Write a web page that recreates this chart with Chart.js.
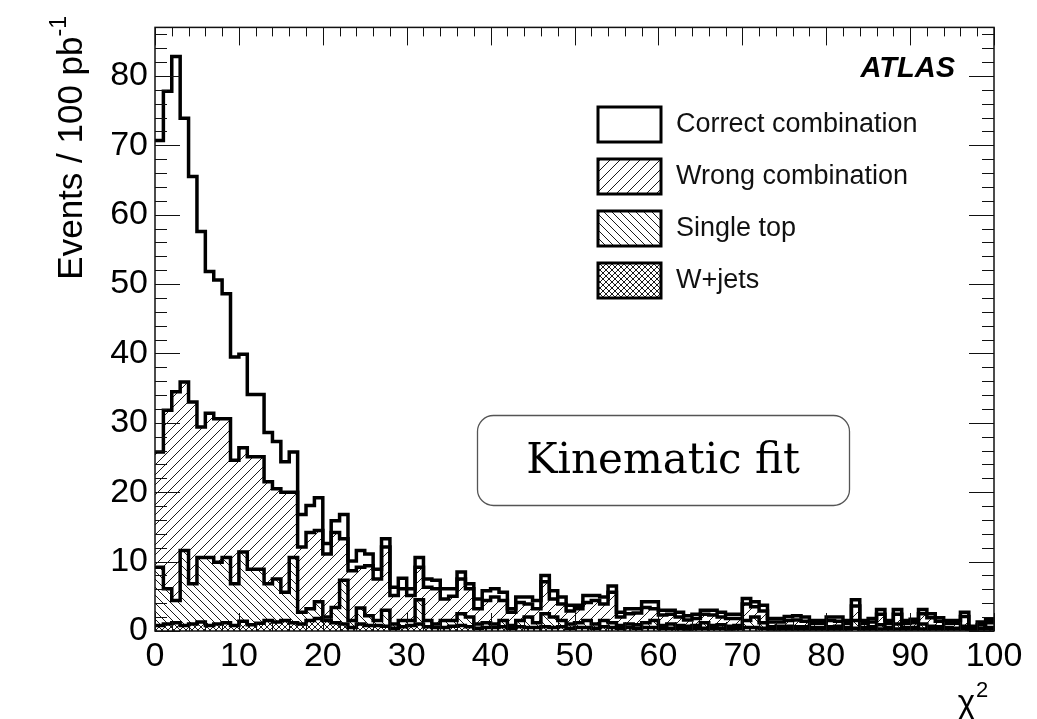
<!DOCTYPE html>
<html>
<head>
<meta charset="utf-8">
<script src="https://cdn.jsdelivr.net/npm/chart.js@4.4.1/dist/chart.umd.min.js"></script>
<style>
  html, body { margin: 0; padding: 0; background: #fff; }
  #wrap { position: relative; width: 1037px; height: 719px; }
</style>
</head>
<body>
<div id="wrap"><canvas id="chi2"></canvas></div>
<script>
// chi2 of the kinematic fit, unit-width bins from 0 to 100, events per bin
const binEdges = Array.from({ length: 100 }, (_, i) => i);

const wJets = [
  0.8, 1.0, 1.2, 0.8, 1.0, 1.3, 0.8, 1.0, 1.2, 0.8,
  1.4, 0.9, 1.1, 1.5, 1.3, 1.5, 1.2, 1.0, 1.5, 1.8,
  1.5, 1.2, 1.0, 0.5, 1.0, 0.8, 0.8, 0.7, 0.4, 0.6,
  0.8, 1.0, 0.6, 0.5, 0.5, 0.7, 0.8, 0.6, 0.4, 0.5,
  0.5, 0.6, 0.4, 0.6, 0.5, 0.5, 0.6, 0.5, 0.6, 0.4,
  0.5, 0.5, 0.4, 0.6, 0.5, 0.4, 0.5, 0.4, 0.5, 0.5,
  0.4, 0.4, 0.4, 0.3, 0.4, 0.4, 0.4, 0.4, 0.3, 0.4,
  0.5, 0.5, 0.4, 0.3, 0.3, 0.3, 0.3, 0.3, 0.3, 0.3,
  0.3, 0.3, 0.3, 0.4, 0.3, 0.3, 0.3, 0.3, 0.3, 0.3,
  0.3, 0.3, 0.3, 0.3, 0.3, 0.3, 0.3, 0.2, 0.3, 0.3
];

const singleTop = [
  8.4, 5.1, 3.2, 10.8, 5.8, 9.3, 9.8, 8.9, 9.4, 6.0,
  10.0, 8.0, 7.8, 5.3, 6.2, 4.1, 9.4, 1.7, 1.7, 2.4,
  0.5, 2.2, 6.3, 1.0, 2.3, 1.4, 0.7, 2.3, 0.6, 0.9,
  0.7, 3.5, 0.9, 0.5, 1.0, 0.8, 1.7, 1.4, 0.6, 0.7,
  0.5, 0.9, 0.4, 0.9, 1.5, 0.7, 1.9, 1.5, 0.9, 0.6,
  0.7, 1.0, 0.6, 0.9, 0.7, 0.4, 0.5, 0.5, 0.7, 1.0,
  0.4, 0.6, 0.4, 0.4, 0.4, 0.8, 0.4, 0.5, 0.4, 0.4,
  1.0, 1.5, 0.8, 0.3, 0.4, 0.4, 0.3, 0.3, 0.2, 0.2,
  0.3, 0.4, 0.2, 1.1, 0.2, 0.3, 0.6, 0.2, 0.7, 0.2,
  0.2, 0.7, 0.4, 0.3, 0.2, 0.1, 0.4, 0.1, 0.1, 0.2
];

const wrongComb = [
  16.6, 25.7, 30.1, 24.3, 26.2, 18.8, 20.8, 20.7, 20.0, 17.8,
  15.0, 16.2, 16.2, 14.7, 13.0, 14.4, 9.4, 9.4, 11.0, 10.3,
  9.1, 10.8, 6.0, 7.2, 5.9, 7.2, 6.0, 9.1, 4.1, 4.6,
  3.6, 4.7, 4.8, 5.1, 3.1, 3.5, 5.0, 4.1, 2.2, 3.2,
  3.9, 2.9, 1.9, 2.6, 1.9, 2.0, 4.6, 2.6, 2.4, 1.9,
  2.0, 2.6, 3.4, 2.4, 4.4, 1.2, 1.5, 1.7, 2.2, 1.7,
  1.5, 1.4, 1.2, 0.9, 1.0, 1.2, 1.5, 1.1, 1.1, 1.0,
  2.4, 1.5, 1.7, 0.7, 0.6, 0.8, 1.0, 0.8, 0.6, 0.6,
  0.9, 0.7, 0.6, 2.1, 0.6, 0.7, 1.5, 0.6, 1.4, 0.6,
  0.7, 1.5, 1.2, 0.8, 0.6, 0.7, 1.4, 0.2, 0.5, 0.7
];

const correctComb = [
  44.9, 46.0, 48.3, 38.0, 32.5, 28.2, 20.4, 20.0, 18.0, 14.9,
  13.5, 9.0, 9.0, 7.1, 6.8, 4.4, 5.8, 4.7, 3.9, 4.7,
  1.5, 1.7, 3.5, 1.4, 2.4, 1.7, 1.4, 1.2, 1.2, 1.5,
  1.0, 1.4, 1.2, 1.2, 1.5, 1.1, 1.0, 0.7, 1.4, 1.4,
  1.2, 1.2, 0.5, 0.8, 1.0, 1.2, 0.9, 1.2, 1.0, 0.8,
  0.5, 1.0, 0.7, 1.0, 0.9, 0.7, 0.7, 0.6, 0.8, 1.0,
  0.7, 0.6, 0.7, 0.6, 0.6, 0.6, 0.7, 0.7, 0.6, 0.6,
  0.8, 0.7, 0.8, 0.5, 0.5, 0.6, 0.6, 0.6, 0.4, 0.4,
  0.5, 0.6, 0.4, 0.9, 0.4, 0.5, 0.7, 0.4, 0.7, 0.4,
  0.5, 0.6, 0.6, 0.5, 0.4, 0.4, 0.6, 0.2, 0.4, 0.5
];

const xTicks = [0, 10, 20, 30, 40, 50, 60, 70, 80, 90, 100];
const yTicks = [0, 10, 20, 30, 40, 50, 60, 70, 80];

const SANS = '"Liberation Sans", Arial, Helvetica, sans-serif';

// hatch tiles: '/' forward, '\' backward, 'x' both
function hatch(kind, step) {
  const c = document.createElement('canvas');
  c.width = step; c.height = step;
  const g = c.getContext('2d');
  g.strokeStyle = '#1a1a1a';
  g.lineWidth = 1;
  g.beginPath();
  if (kind === '/' || kind === 'x') {
    g.moveTo(-1, step + 1); g.lineTo(step + 1, -1);
    g.moveTo(-1, 1); g.lineTo(1, -1);
    g.moveTo(step - 1, step + 1); g.lineTo(step + 1, step - 1);
  }
  if (kind === '\\' || kind === 'x') {
    g.moveTo(-1, -1); g.lineTo(step + 1, step + 1);
    g.moveTo(step - 1, -1); g.lineTo(step + 1, 1);
    g.moveTo(-1, step - 1); g.lineTo(1, step + 1);
  }
  g.stroke();
  return g.createPattern(c, 'repeat');
}

const crossFill = hatch('x', 6);
const backFill = hatch('\\', 8);
const fwdFill = hatch('/', 10);

// one point per lower bin edge, plus the closing edge at 100
function histPoints(vals) {
  const pts = vals.map((v, i) => ({ x: binEdges[i], y: v }));
  pts.push({ x: 100, y: vals[vals.length - 1] });
  return pts;
}

const common = {
  borderColor: '#000',
  borderWidth: 3.5,
  pointRadius: 0,
  stepped: 'before',
  borderJoinStyle: 'miter',
};

// frame with ROOT-style inward ticks on all four sides
const framePlugin = {
  id: 'frame',
  afterDatasetsDraw(chart) {
    const { ctx, chartArea: a, scales: { x, y } } = chart;
    ctx.save();
    ctx.strokeStyle = '#111';
    ctx.lineWidth = 1.5;
    ctx.strokeRect(a.left, a.top, a.right - a.left, a.bottom - a.top);
    ctx.lineWidth = 1;
    ctx.beginPath();
    for (let v = 0; v <= 100; v += 2) {
      const px = Math.round(x.getPixelForValue(v)) + 0.5;
      const len = v % 10 === 0 ? 18 : 9;
      ctx.moveTo(px, a.bottom); ctx.lineTo(px, a.bottom - len);
      ctx.moveTo(px, a.top); ctx.lineTo(px, a.top + len);
    }
    for (let v = 0; v <= y.max; v += 2) {
      const py = Math.round(y.getPixelForValue(v)) + 0.5;
      const len = v % 10 === 0 ? 25 : 12;
      ctx.moveTo(a.left, py); ctx.lineTo(a.left + len, py);
      ctx.moveTo(a.right, py); ctx.lineTo(a.right - len, py);
    }
    ctx.stroke();
    ctx.restore();
  },
  afterDraw(chart) {
    const { ctx } = chart;
    const ds = chart.data.datasets;
    ctx.save();

    // legend, top entry first
    const rows = [3, 2, 1, 0];
    rows.forEach((di, r) => {
      const cy = 124 + r * 52;
      ctx.fillStyle = ds[di].backgroundColor;
      ctx.fillRect(598, cy - 17, 63, 35);
      ctx.lineWidth = 3;
      ctx.strokeStyle = '#000';
      ctx.strokeRect(598, cy - 17, 63, 35);
      ctx.fillStyle = '#111';
      ctx.font = '27px ' + SANS;
      ctx.textAlign = 'left';
      ctx.textBaseline = 'middle';
      ctx.fillText(ds[di].label, 676, cy + 1);
    });

    // experiment tag
    ctx.fillStyle = '#000';
    ctx.font = 'italic bold 29px ' + SANS;
    ctx.textAlign = 'right';
    ctx.textBaseline = 'alphabetic';
    ctx.fillText('ATLAS', 955, 77);

    // boxed caption
    ctx.beginPath();
    ctx.roundRect(477.5, 415.5, 372, 90, 16);
    ctx.fillStyle = '#fff';
    ctx.fill();
    ctx.lineWidth = 1.3;
    ctx.strokeStyle = '#555';
    ctx.stroke();
    ctx.fillStyle = '#000';
    ctx.font = '42px "DejaVu Serif", "Liberation Serif", serif';
    ctx.textAlign = 'center';
    ctx.textBaseline = 'middle';
    ctx.fillText('Kinematic fit', 663, 462);

    // y title, right-aligned to the top of the axis, with superscript
    const tFont = '35px ' + SANS;
    const sFont = '23px ' + SANS;
    ctx.textAlign = 'left';
    ctx.textBaseline = 'alphabetic';
    const main = 'Events / 100 pb';
    const sup = '-1';
    ctx.font = tFont;
    const wMain = ctx.measureText(main).width;
    ctx.font = sFont;
    const wSup = ctx.measureText(sup).width;
    ctx.translate(82, 16);
    ctx.rotate(-Math.PI / 2);
    ctx.font = tFont;
    ctx.fillText(main, -(wMain + wSup), 0);
    ctx.font = sFont;
    ctx.fillText(sup, -wSup, -16);
    ctx.setTransform(1, 0, 0, 1, 0, 0);

    // x title
    ctx.font = '33px ' + SANS;
    ctx.textAlign = 'right';
    ctx.fillText('\u03c7', 975, 713);
    ctx.font = '22px ' + SANS;
    ctx.textAlign = 'left';
    ctx.fillText('2', 976, 697);
    ctx.restore();
  }
};

new Chart(document.getElementById('chi2'), {
  type: 'line',
  data: {
    datasets: [
      { ...common, label: 'W+jets', data: histPoints(wJets), backgroundColor: crossFill, fill: 'origin' },
      { ...common, label: 'Single top', data: histPoints(singleTop), backgroundColor: backFill, fill: '-1' },
      { ...common, label: 'Wrong combination', data: histPoints(wrongComb), backgroundColor: fwdFill, fill: '-1' },
      { ...common, label: 'Correct combination', data: histPoints(correctComb), backgroundColor: '#fff', fill: '-1' },
    ],
  },
  options: {
    animation: false,
    responsive: true,
    maintainAspectRatio: false,
    layout: { padding: { top: 21, right: 43, left: 0, bottom: 0 } },
    plugins: {
      legend: { display: false },
      tooltip: { enabled: false },
      filler: { drawTime: 'beforeDatasetsDraw' },
    },
    scales: {
      x: {
        type: 'linear',
        min: 0,
        max: 100,
        grid: { display: false, drawTicks: false },
        border: { display: false },
        afterBuildTicks: s => { s.ticks = xTicks.map(v => ({ value: v })); },
        afterFit: s => { s.height = 88; },
        ticks: {
          autoSkip: false,
          maxRotation: 0,
          padding: 5,
          color: '#000',
          font: { family: SANS, size: 34 },
        },
      },
      y: {
        stacked: true,
        min: 0,
        max: 87,
        grid: { display: false, drawTicks: false },
        border: { display: false },
        afterBuildTicks: s => { s.ticks = yTicks.map(v => ({ value: v })); },
        afterFit: s => { s.width = 155; },
        ticks: {
          padding: 7,
          color: '#000',
          font: { family: SANS, size: 34 },
        },
      },
    },
  },
  plugins: [framePlugin],
});
</script>
</body>
</html>
